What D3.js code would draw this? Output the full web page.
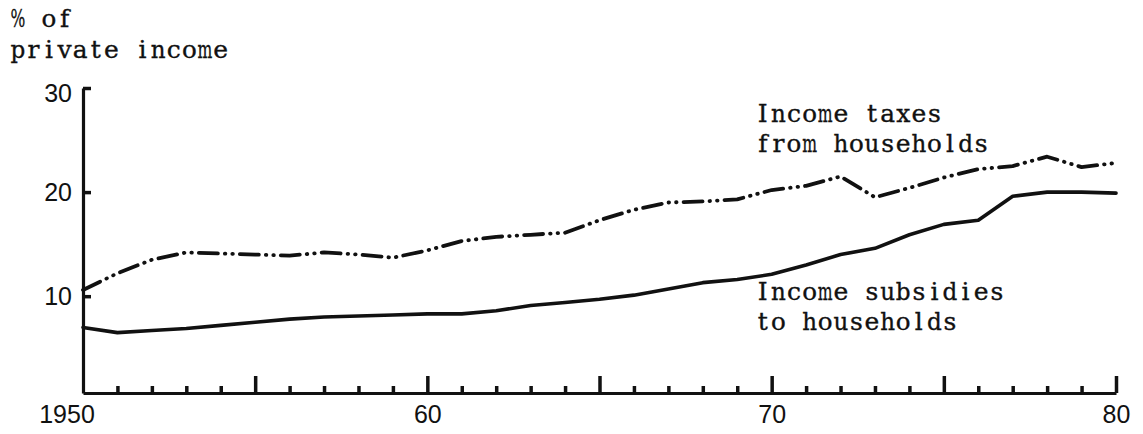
<!DOCTYPE html>
<html>
<head>
<meta charset="utf-8">
<script src="https://cdn.jsdelivr.net/npm/d3@7"></script>
<style>
  body { margin: 0; background: #fff; }
  .type { font-family: "DejaVu Serif", "Liberation Serif", serif; font-size: 25px; fill: #111; stroke: #111; stroke-width: 0.35px; }
  .num { font-family: "Liberation Sans", Arial, sans-serif; font-size: 25px; fill: #111; }
</style>
</head>
<body>
<script>
// data, % of private income
var years = [1950,1951,1952,1953,1954,1955,1956,1957,1958,1959,1960,
             1961,1962,1963,1964,1965,1966,1967,1968,1969,1970,
             1971,1972,1973,1974,1975,1976,1977,1978,1979,1980];
var taxes = [10.6,12.2,13.5,14.2,14.1,14.0,13.9,14.2,14.0,13.7,14.4,
             15.3,15.7,15.9,16.1,17.3,18.3,19.0,19.1,19.3,20.2,
             20.6,21.5,19.5,20.4,21.4,22.2,22.5,23.4,22.4,22.8];
var subsidies = [7.0,6.5,6.7,6.9,7.2,7.5,7.8,8.0,8.1,8.2,8.3,
                 8.3,8.6,9.1,9.4,9.7,10.1,10.7,11.3,11.6,12.1,
                 13.0,14.0,14.6,15.9,16.9,17.3,19.6,20.0,20.0,19.9];
var yTicks = [10, 20, 30];
var majorYears = [1955, 1960, 1965, 1970, 1975, 1980];
var labelYears = [1950, 1960, 1970, 1980];
var labelText = ["1950", "60", "70", "80"];

var width = 1143, height = 434;

var svg = d3.select("body").append("svg")
    .attr("width", width)
    .attr("height", height);

var x = d3.scaleLinear().domain([1950, 1980]).range([83, 1116]);
var y = d3.scaleLinear().domain([0.7, 30]).range([393, 88]);

// y axis, ticks pointing inside
var yAxis = svg.append("g")
    .attr("transform", "translate(" + x(1950) + ",0)")
    .call(d3.axisLeft(y).tickValues(yTicks).tickSize(-8).tickSizeOuter(0).tickPadding(11));
yAxis.select(".domain").attr("stroke", "#111").attr("stroke-width", 3.2);
yAxis.selectAll(".tick line").attr("stroke", "#111").attr("stroke-width", 3.5);
yAxis.selectAll(".tick text").attr("class", "num").attr("fill", "#111")
    .filter(function(d) { return d == 30; })
    .attr("dy", "0.55em");

// x axis, ticks pointing up
var labelOf = function(d) {
  var i = labelYears.indexOf(d);
  return i < 0 ? "" : labelText[i];
};
var xAxis = svg.append("g")
    .attr("transform", "translate(0," + y(0.7) + ")")
    .call(d3.axisBottom(x).tickValues(years.slice(1)).tickSize(-7).tickSizeOuter(0)
      .tickPadding(12).tickFormat(labelOf));
xAxis.select(".domain").attr("stroke", "#111").attr("stroke-width", 3.2);
xAxis.selectAll(".tick line").attr("stroke", "#111").attr("stroke-width", 3.5)
    .filter(function(d) { return majorYears.indexOf(d) >= 0; })
    .attr("y2", -17);
xAxis.selectAll(".tick text").attr("class", "num").attr("fill", "#111");
// the 1950 label sits at the corner
xAxis.append("text")
    .attr("class", "num")
    .attr("x", x(1950) - 16)
    .attr("y", 12)
    .attr("dy", "0.71em")
    .attr("text-anchor", "middle")
    .text(labelOf(1950));

// lines
var line = function(vals) {
  return d3.line()
    .x(function(d, i) { return x(years[i]); })
    .y(function(d) { return y(d); })(vals);
};

svg.append("path")
    .attr("d", line(subsidies))
    .attr("fill", "none")
    .attr("stroke", "#111")
    .attr("stroke-width", 3.6)
    .attr("stroke-linejoin", "round")
    .attr("stroke-linecap", "round");

svg.append("path")
    .attr("d", line(taxes))
    .attr("fill", "none")
    .attr("stroke", "#111")
    .attr("stroke-width", 3.8)
    .attr("stroke-linejoin", "round")
    .attr("stroke-linecap", "round")
    .attr("stroke-dasharray", "19,7,0.5,7,0.5,7");

// typewritten labels: one glyph per fixed cell, wide glyphs squeezed
var notes = [
  {t: "% of", x: 10, y: 27},
  {t: "private income", x: 10, y: 58},
  {t: "Income taxes", x: 755, y: 122},
  {t: "from households", x: 755, y: 152},
  {t: "Income subsidies", x: 755, y: 300},
  {t: "to households", x: 755, y: 330}
];
var cell = 15.6;
notes.forEach(function(n) {
  var g = svg.append("g").attr("class", "type");
  n.t.split("").forEach(function(ch, i) {
    if (ch == " ") return;
    var cx = n.x + i * cell + cell / 2;
    var t = g.append("text")
        .attr("x", cx)
        .attr("y", n.y)
        .attr("text-anchor", "middle")
        .text(ch);
    var w = t.node().getComputedTextLength();
    var maxW = cell * 0.95;
    if (w > maxW) {
      var s = maxW / w;
      t.attr("transform", "translate(" + cx + ",0) scale(" + s + ",1) translate(" + (-cx) + ",0)");
    }
  });
});
</script>
</body>
</html>
